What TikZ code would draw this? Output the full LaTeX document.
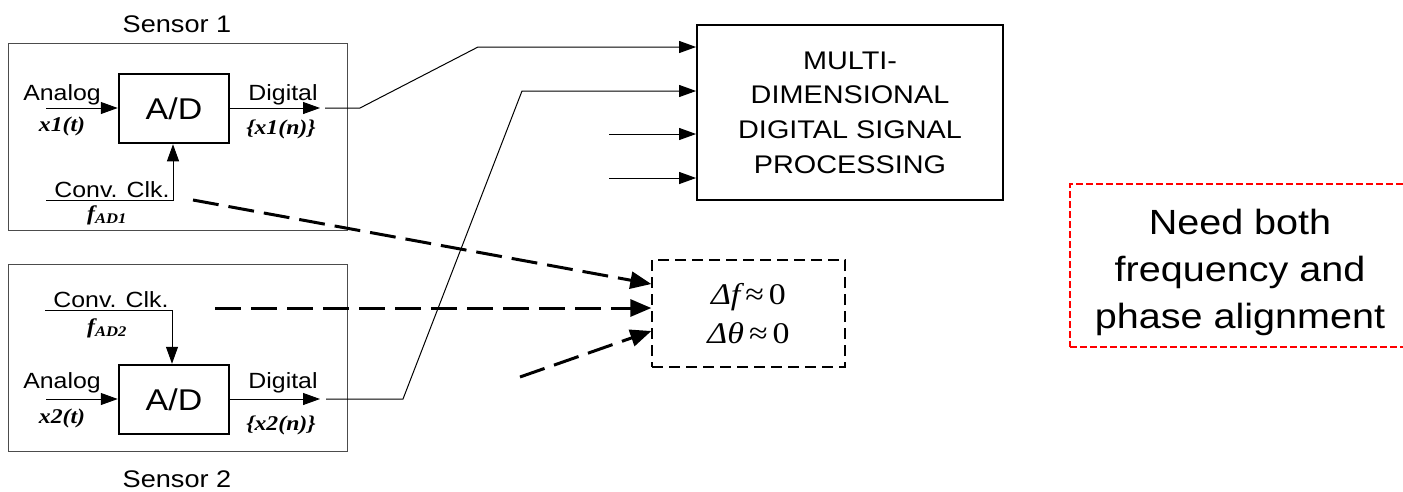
\documentclass[tikz,border=0pt]{standalone}
\usepackage{fontspec}
\setmainfont{Liberation Sans}[FakeStretch=1.13]
\newfontfamily\tms{Liberation Serif}[FakeStretch=1.13]
\usetikzlibrary{arrows.meta}

\tikzset{
  sensorbox/.style={draw=black!70, line width=1pt, minimum width=339pt, minimum height=187pt},
  adbox/.style={draw, line width=2.5pt, minimum width=110pt, minimum height=69pt,
    font=\fontsize{30}{36}\selectfont},
  dspbox/.style={draw, line width=1.8pt, minimum width=306pt, minimum height=175pt,
    align=center, font=\fontsize{25.5}{34.7}\selectfont},
  syncbox/.style={draw, line width=1.3pt, dash pattern=on 11pt off 6pt, minimum width=193pt,
    minimum height=107pt, align=center, font=\fontsize{30}{39}\selectfont\tms},
  notebox/.style={draw=red, line width=2pt, dash pattern=on 7pt off 3pt, minimum width=350pt,
    minimum height=163pt},
  lbl/.style={anchor=base, inner sep=0pt, font=\fontsize{22}{26}\selectfont},
  var/.style={anchor=base, inner sep=0pt, font=\fontsize{21}{25}\selectfont\tms\bfseries\itshape},
  sig/.style={line width=1pt, -{Triangle[length=17pt,width=12pt]}},
  clk/.style={line width=3pt, dash pattern=on 26pt off 10pt, -{Triangle[length=21pt,width=17pt]}},
}

\begin{document}
\begin{tikzpicture}[x=1pt,y=-1pt]
\useasboundingbox (0,0) rectangle (1403,491);

% Sensor 1
\node[sensorbox] (sen1) at (177.5,136.5) {};
\node[lbl, font=\fontsize{24}{28}\selectfont] (sen1lbl) at (177,32) {Sensor 1};
\node[adbox] (ad1) at (174,108.5) {A/D};
\coordinate (an1) at (46,108);
\draw[sig] (an1) -- (an1 -| ad1.west);
\node[lbl] (an1lbl) at (62,100) {Analog};
\node[var] (x1t) at (62,131) {x1(t)};
\coordinate (dg1) at (320,108);
\draw[sig] (dg1 -| ad1.east) -- (dg1);
\node[lbl] (dg1lbl) at (283,100) {Digital};
\node[var] (x1n) at (281,134) {\{x1(n)\}};
\coordinate (ck1) at (46,200);
\coordinate (ck1b) at (173,200);
\draw[sig] (ck1) -- (ck1b) -- (ck1b |- ad1.south);
\node[lbl] (ck1lbl) at (112,197) {Conv. Clk.};
\node[var] (fad1) at (107,220) {f\textsubscript{AD1}};

% Sensor 2
\node[sensorbox] (sen2) at (177.5,358) {};
\node[lbl, font=\fontsize{24}{28}\selectfont] (sen2lbl) at (177,487) {Sensor 2};
\node[adbox] (ad2) at (174,399.5) {A/D};
\coordinate (an2) at (46,399);
\draw[sig] (an2) -- (an2 -| ad2.west);
\node[lbl] (an2lbl) at (62,388) {Analog};
\node[var] (x2t) at (62,423) {x2(t)};
\coordinate (dg2) at (320,399);
\draw[sig] (dg2 -| ad2.east) -- (dg2);
\node[lbl] (dg2lbl) at (283,388) {Digital};
\node[var] (x2n) at (281,430) {\{x2(n)\}};
\coordinate (ck2) at (45,310);
\coordinate (ck2b) at (172,310);
\draw[sig] (ck2) -- (ck2b) -- (ck2b |- ad2.north);
\node[lbl] (ck2lbl) at (111,307) {Conv. Clk.};
\node[var] (fad2) at (107,333) {f\textsubscript{AD2}};

% Multi-dimensional processing block and its inputs
\node[dspbox] (dsp) at (850,112.5) {MULTI-\\DIMENSIONAL\\DIGITAL SIGNAL\\PROCESSING};
\coordinate (w1a) at (325,108);
\coordinate (w1b) at (360,108);
\coordinate (w1c) at (478,47);
\draw[sig] (w1a) -- (w1b) -- (w1c) -- (w1c -| dsp.west);
\coordinate (w2a) at (326,399);
\coordinate (w2b) at (403,399);
\coordinate (w2c) at (522,91);
\draw[sig] (w2a) -- (w2b) -- (w2c) -- (w2c -| dsp.west);
\coordinate (in3) at (609,134);
\draw[sig] (in3) -- (in3 -| dsp.west);
\coordinate (in4) at (609,178);
\draw[sig] (in4) -- (in4 -| dsp.west);

% Clock alignment
\node[syncbox] (sync) at (748.5,313.5)
  {{\itshape Δf}\,≈\,0\\{\itshape Δθ}\,≈\,0};
\coordinate (sk1) at (193,200);
\coordinate (sk2) at (215,308);
\coordinate (sk3) at (520,377);
\draw[clk] (sk1) -- ([yshift=29.5pt]sync.west);
\draw[clk] (sk2) -- ([yshift=5.5pt]sync.west);
\draw[clk] (sk3) -- ([yshift=-17.5pt]sync.west);

% Note
\node[notebox] (note) at (1245,265.5) {};
\node[align=center, font=\fontsize{35}{47}\selectfont] (notetxt) at (1240,272)
  {Need both\\frequency and\\phase alignment};
\end{tikzpicture}
\end{document}
